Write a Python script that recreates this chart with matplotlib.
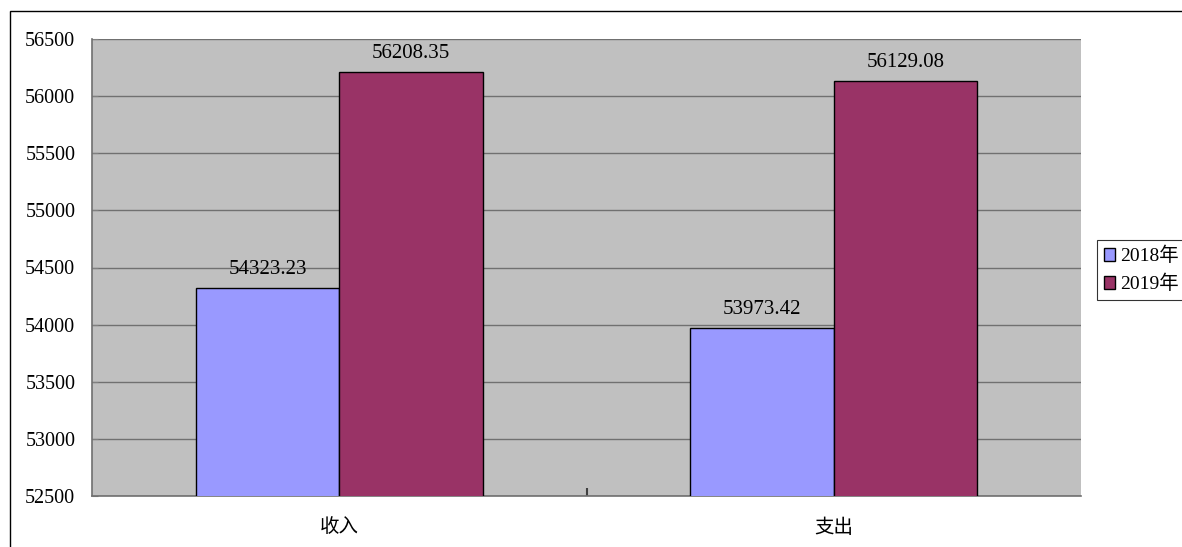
import matplotlib.pyplot as plt
from matplotlib.patches import Rectangle
import numpy as np

plt.rcParams['font.family'] = ['Liberation Serif', 'Noto Sans CJK SC']

categories = ['收入', '支出']
series_names = ['2018年', '2019年']
values_2018 = [54323.23, 53973.42]
values_2019 = [56208.35, 56129.08]
value_labels_2018 = ['54323.23', '53973.42']
value_labels_2019 = ['56208.35', '56129.08']
yticks = [52500, 53000, 53500, 54000, 54500, 55000, 55500, 56000, 56500]

fig = plt.figure(figsize=(11.82, 5.47), dpi=100)
ax = fig.add_axes([92 / 1182, 51 / 547, 989 / 1182, 457 / 547])
ax.set_facecolor('#C0C0C0')

x = np.arange(len(categories))
w = 0.29
bars1 = ax.bar(x - w / 2, values_2018, w, color='#9999FF', edgecolor='black', linewidth=1, label=series_names[0], zorder=3)
bars2 = ax.bar(x + w / 2, values_2019, w, color='#993366', edgecolor='black', linewidth=1, label=series_names[1], zorder=3)

for b, t in zip(bars1, value_labels_2018):
    ax.text(b.get_x() + b.get_width() / 2, b.get_height() + 80, t, ha='center', va='bottom', fontsize=15)
for b, t in zip(bars2, value_labels_2019):
    ax.text(b.get_x() + b.get_width() / 2, b.get_height() + 80, t, ha='center', va='bottom', fontsize=15)

ax.set_xlim(-0.5, 1.5)
ax.set_ylim(52500, 56500)
ax.set_yticks(yticks)
ax.tick_params(axis='y', labelsize=14.5, direction='in', length=4, color='#808080', pad=12)
ax.set_xticks(x)
ax.set_xticklabels(categories, fontsize=14)
ax.tick_params(axis='x', length=0, pad=16)
ax.set_xticks([0.5], minor=True)
ax.tick_params(axis='x', which='minor', direction='in', length=6, width=1.5, color='#404040')

ax.grid(axis='y', color='#707070', linewidth=1, zorder=1)
ax.set_axisbelow(True)
for s in ['top', 'right']:
    ax.spines[s].set_visible(False)
for s in ['left', 'bottom']:
    ax.spines[s].set_color('#707070')
    ax.spines[s].set_linewidth(1.2)

fig.patches.append(Rectangle((10 / 1182, -0.1), 1.2, 1.1 - 11 / 547, transform=fig.transFigure,
                             fill=False, edgecolor='black', linewidth=1))

leg = fig.legend(loc='upper left', bbox_to_anchor=(1097 / 1182, 1 - 240 / 547), fontsize=14,
                 frameon=True, fancybox=False, edgecolor='black', handlelength=0.6, handleheight=0.6,
                 handletextpad=0.25, borderpad=0.35, labelspacing=0.5, borderaxespad=0)
leg.get_frame().set_linewidth(0.8)

fig.savefig('out.png', dpi=100)
